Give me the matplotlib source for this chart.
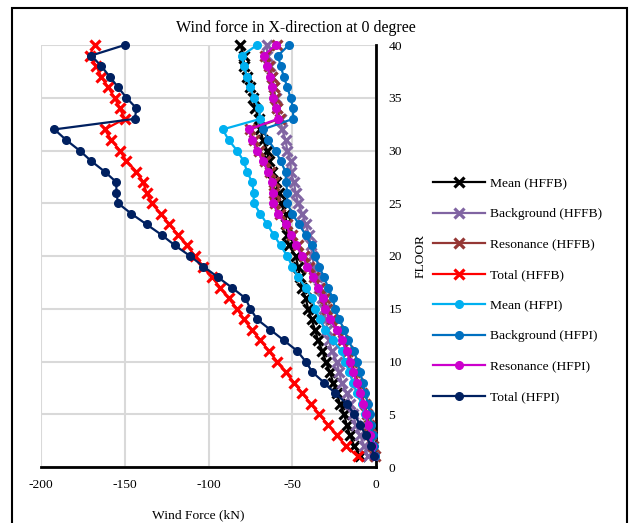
import matplotlib
matplotlib.use("Agg")
import matplotlib.pyplot as plt
from matplotlib.patches import Rectangle

plt.rcParams['font.family'] = ['Liberation Serif', 'DejaVu Serif']
plt.rcParams['axes.unicode_minus'] = False

floors = list(range(1, 41))

mean_hffb = [-9.5, -13, -15.5, -17.5, -19, -21.5, -23.5, -25.6, -27.5, -30,
             -32, -34.6, -36.4, -38.5, -40.5, -42, -44, -45.5, -46.5, -48,
             -52, -53, -53.5, -54, -57, -58, -60, -62, -64, -65,
             -67.5, -69, -70, -72, -73.5, -75, -77, -79, -79, -81]
background_hffb = [-4.8, -7, -9.5, -12, -13.7, -15.5, -17.5, -20.5, -22, -23.5,
                   -26.5, -28, -29, -30, -31, -32.5, -34, -35.5, -37, -38,
                   -39, -40, -42, -44, -46.5, -48, -49, -51, -51, -53,
                   -54, -56, -57, -59, -60, -61, -62, -63, -65, -65]
resonance_hffb = [-0.5, -1.5, -2.8, -4, -5.2, -6.8, -8.6, -10.5, -12.7, -14.5,
                  -16.5, -19.5, -22.5, -26.5, -29.4, -30.6, -33.6, -36.8, -40, -43,
                  -46.8, -50, -53, -57.5, -60.5, -60.7, -61, -63.5, -66.5, -70,
                  -73, -75, -57.5, -59, -60.5, -61, -62, -64, -66, -59]
total_hffb = [-11, -18, -23.5, -28.6, -34, -39, -44, -49, -54, -59,
              -64, -69, -74, -79, -83, -88, -93, -98, -103, -108,
              -113, -118, -123.5, -128.5, -134, -137, -139, -143, -149, -153,
              -158, -162, -150, -153, -156, -160, -164, -167, -171, -168]
mean_hfpi = [-0.8, -1.8, -3, -4.8, -6.6, -8.5, -11.3, -13.7, -16, -18.5,
             -20.5, -25.7, -30.4, -33.5, -36.4, -38, -42, -46.5, -50, -53,
             -57, -61, -65, -69, -73, -73, -74, -77, -79, -83,
             -88, -91.5, -69, -70, -73, -75, -77, -79, -80, -71]
background_hfpi = [-0.5, -1.2, -2, -2.8, -3.6, -4.8, -6.6, -8, -9.5, -11.3,
                   -13, -16.7, -19, -22, -24.5, -25.8, -28.6, -31, -34, -36.4,
                   -38.4, -42, -46, -50, -53, -53, -53.7, -54, -57, -60,
                   -64.5, -67.5, -49.5, -49.5, -51, -53, -55, -57, -58.5, -52]
resonance_hfpi = [-1, -2.2, -3.5, -4.8, -6, -7.7, -9.5, -11.5, -13.7, -15.5,
                  -17.5, -20.5, -23.5, -27.5, -30.4, -31.6, -34.6, -37.8, -41, -44,
                  -47.8, -51, -54, -58.5, -61.5, -61.7, -62, -64.5, -67.5, -71,
                  -74, -76, -58.5, -60, -61.5, -62, -63, -65, -67, -60]
total_hfpi = [-1, -3, -6, -9.5, -13, -17.5, -24.5, -31, -38, -42,
              -47, -55, -63, -71, -75, -78, -86, -94.5, -103, -111,
              -120, -128, -137, -146, -154, -155, -155, -162, -170, -177,
              -185, -192, -144, -143, -149, -154, -159, -164, -170, -150]

series = [
    ("Mean (HFFB)", mean_hffb, "#000000", "x"),
    ("Background (HFFB)", background_hffb, "#8064A2", "x"),
    ("Resonance (HFFB)", resonance_hffb, "#953735", "x"),
    ("Total (HFFB)", total_hffb, "#FF0000", "x"),
    ("Mean (HFPI)", mean_hfpi, "#00B0F0", "o"),
    ("Background (HFPI)", background_hfpi, "#0070C0", "o"),
    ("Resonance (HFPI)", resonance_hfpi, "#CC00CC", "o"),
    ("Total (HFPI)", total_hfpi, "#002060", "o"),
]

FS = 9.7
W, H = 629, 523
fig = plt.figure(figsize=(W / 100, H / 100), dpi=100)
ax = fig.add_axes([41 / W, 1 - 467 / H, (376 - 41) / W, (467 - 45) / H])

for label, vals, color, mk in series:
    if mk == "x":
        ax.plot(vals, floors, color=color, lw=1.6, marker="x", ms=6.5,
                mew=2.3, label=label, zorder=3, clip_on=False)
    else:
        ax.plot(vals, floors, color=color, lw=1.6, marker="o", ms=5.5,
                label=label, zorder=3, clip_on=False)

ax.set_xlim(-200, 0)
ax.set_ylim(0, 40)
ax.set_xticks(range(-200, 1, 50))
ax.set_yticks(range(0, 41, 5))
ax.grid(True, color="#D9D9D9", lw=1.5)
ax.set_axisbelow(True)

for side in ("left", "top"):
    ax.spines[side].set_visible(False)
ax.spines["right"].set_linewidth(2)
ax.spines["bottom"].set_linewidth(2)
ax.yaxis.tick_right()
ax.yaxis.set_label_position("right")
ax.tick_params(axis="both", length=0, labelsize=FS)
ax.tick_params(axis="x", pad=9)
ax.tick_params(axis="y", pad=9)

ax.set_xlabel("Wind Force (kN)", fontsize=FS)
ax.xaxis.set_label_coords((198 - 41) / 335, -(509 - 467) / 422)
ax.set_ylabel("FLOOR", fontsize=FS, rotation=90)
ax.yaxis.set_label_coords((415 - 41) / 335, (467 - 256) / 422)

fig.text(296 / W, 1 - 28 / H, "Wind force in X-direction at 0 degree",
         ha="center", va="center", fontsize=11.5)

handles, labels = ax.get_legend_handles_labels()
fig.legend(handles, labels, loc="upper left",
           bbox_to_anchor=(433 / W, 1 - 177.5 / H), frameon=False,
           fontsize=FS, handlelength=3.86, handletextpad=0.37,
           labelspacing=1.34, borderpad=0, borderaxespad=0)

fig.add_artist(Rectangle((12 / W, -0.05), (627 - 12) / W, 1.05 - 8 / H,
                         transform=fig.transFigure, fill=False,
                         edgecolor="black", lw=1.5, clip_on=False))

fig.savefig("out.png", dpi=100)
